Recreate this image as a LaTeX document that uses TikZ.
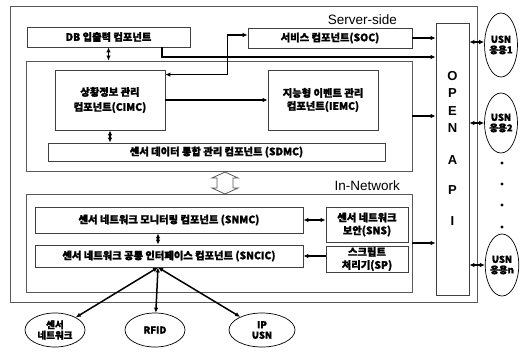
\documentclass[tikz,border=0pt]{standalone}
\usepackage{fontspec}
\setmainfont{Noto Sans CJK KR}[BoldFeatures={FakeBold=1.5}]
\newfontfamily\latinfont{Liberation Sans}
\usetikzlibrary{shapes.geometric, arrows.meta}

\begin{document}
\begin{tikzpicture}[x=1pt,y=-1pt, >={Latex[length=5pt,width=4.5pt]},
		box/.style={draw=black!75, line width=0.8pt, inner sep=1pt, align=center, font=\fontsize{10.3}{13}\selectfont\bfseries},
		frame/.style={draw=black!65, line width=0.9pt, inner sep=0pt},
		app/.style={ellipse, draw=black, line width=0.7pt, inner sep=0pt, align=center, font=\fontsize{9.5}{10.5}\selectfont\bfseries},
		side/.style={font=\latinfont\fontsize{13.5}{14}\selectfont, inner sep=0pt},
		link/.style={line width=1.5pt, <->},
		flow/.style={line width=1.5pt, ->}]
		\useasboundingbox (0,0) rectangle (521,351);
		% frames
		\node [frame, minimum width=467pt, minimum height=296pt](outer) at (243.5,154) {};
		\node [frame, minimum width=386pt, minimum height=110pt](server) at (219,116) {};
		\node [frame, minimum width=386pt, minimum height=98pt](innet) at (219,243) {};
		\node [side, anchor=east](serverlabel) at (397,20) {Server-side};
		\node [side, anchor=east](innetlabel) at (400,186) {In-Network};
		% server side
		\node [box, minimum width=163pt, minimum height=20pt](DB) at (108.5,37) {DB 입출력 컴포넌트};
		\node [box, minimum width=164pt, minimum height=20pt](SOC) at (330,38) {서비스 컴포넌트(SOC)};
		\node [box, minimum width=110pt, minimum height=60pt](CIMC) at (110,100) {상황정보 관리\\[2pt]컴포넌트(CIMC)};
		\node [box, minimum width=110pt, minimum height=60pt](IEMC) at (323,100) {지능형 이벤트 관리\\컴포넌트(IEMC)};
		\node [box, minimum width=337pt, minimum height=18pt](SDMC) at (216.5,152) {센서 데이터 통합 관리 컴포넌트 (SDMC)};
		% in-network
		\node [box, minimum width=268pt, minimum height=26pt](SNMC) at (169,220) {센서 네트워크 모니터링 컴포넌트 (SNMC)};
		\node [box, minimum width=268pt, minimum height=22pt](SNCIC) at (169,256) {센서 네트워크 공통 인터페이스 컴포넌트 (SNCIC)};
		\node [box, minimum width=82pt, minimum height=35pt](SNS) at (367,224.5) {센서 네트워크\\보안(SNS)};
		\node [box, minimum width=82pt, minimum height=26pt](SP) at (367,259) {스크립트\\처리기(SP)};
		% open api
		\node [box, minimum width=33pt, minimum height=272pt, font=\latinfont\bfseries\fontsize{13}{17.5}\selectfont](API) at (452.5,159) {O\\P\\E\\N\\[14pt]A\\[13pt]P\\[13pt]I\\[4pt]};
		% applications
		\node [app, minimum width=28pt, minimum height=64pt](USN1) at (501,45) {USN\\응용1};
		\node [app, minimum width=28pt, minimum height=60pt](USN2) at (501,123) {USN\\응용2};
		\node [app, minimum width=30pt, minimum height=62pt](USNn) at (502,265) {USN\\응용n};
		\foreach \y/\name in {163/dota, 184/dotb, 205/dotc, 227/dotd}
			\node [circle, fill=black, inner sep=0pt, minimum size=3.4pt](\name) at (502,\y) {};
		% devices
		\node [app, minimum width=60pt, minimum height=34pt](sensornet) at (55,330) {센서\\네트워크};
		\node [app, minimum width=60pt, minimum height=34pt](RFID) at (155,330) {RFID};
		\node [app, minimum width=66pt, minimum height=34pt](IPUSN) at (262,330) {IP\\USN};
		% connectors
		\draw [link](DB.south) -- (DB.south |- server.north);
		\draw [link](CIMC.south) -- (CIMC.south |- SDMC.north);
		\draw [link]([yshift=-5pt]CIMC.north east) -- ++(62,0) |- ([yshift=3pt]SOC.west);
		\draw [flow](CIMC.east) -- (IEMC.west);
		\coordinate (dbturn) at (162,57);
		\draw [flow](DB.south -| dbturn) |- (dbturn -| API.west);
		\draw [flow](SOC.east) -- (SOC.east -| API.west);
		\draw [flow](server.east) -- (server.east -| API.west);
		\draw [flow](innet.east) -- (innet.east -| API.west);
		\draw [link]([yshift=3pt]USN1.west -| API.east) -- ([yshift=3pt]USN1.west);
		\draw [link](USN2.west -| API.east) -- (USN2.west);
		\draw [link](USNn.west -| API.east) -- (USNn.west);
		\draw [link](SNMC.east) -- (SNMC.east -| SNS.west);
		\draw [flow](SNCIC.east -| SP.west) -- (SNCIC.east);
		\coordinate (hub) at ([xshift=-11pt]SNCIC.south);
		\draw [link]([xshift=-11pt]SNMC.south) -- (hub |- SNCIC.north);
		\draw [link](hub) -- (sensornet);
		\draw [link](hub) -- (RFID);
		\draw [link](hub) -- (IPUSN);
		% hollow arrow between the two layers
		\draw [draw=black!65, line width=0.8pt, fill=white](217,178) -- (212,178) -- (225,172) -- (238,178) -- (233,178) -- (233,188) -- (238,188) -- (225,194) -- (212,188) -- (217,188) -- cycle;
	\end{tikzpicture}
\end{document}
